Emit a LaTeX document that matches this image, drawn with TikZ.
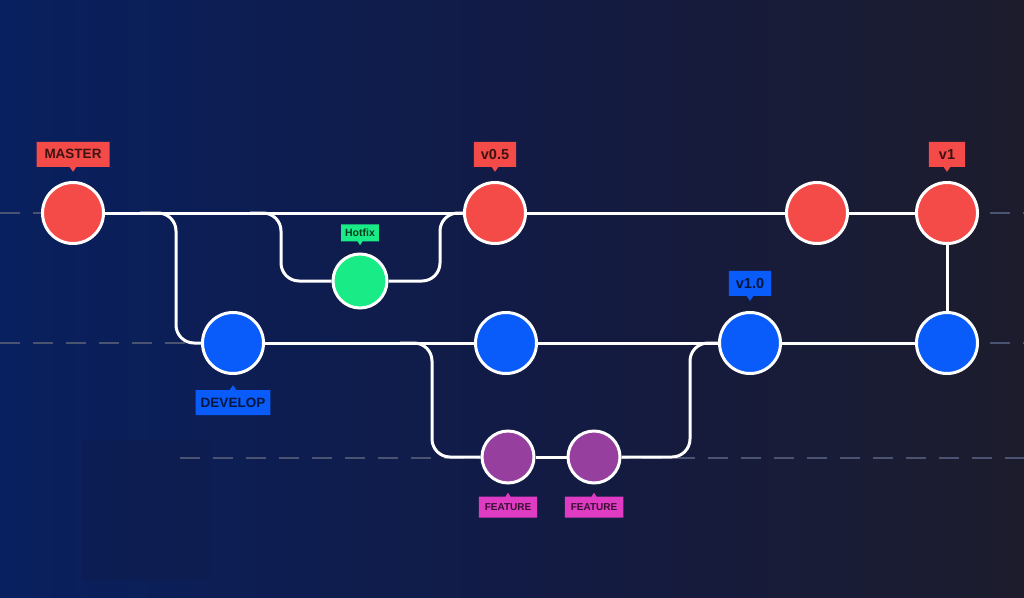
\documentclass[tikz,border=0pt]{standalone}
\usepackage{fontspec}
\setmainfont{Liberation Sans}
\usetikzlibrary{positioning, shapes.callouts}
\definecolor{bgleft}{HTML}{08205F}
\definecolor{bgmid}{HTML}{121B45}
\definecolor{bgright}{HTML}{1D1C2D}
\definecolor{redc}{HTML}{F44A48}
\definecolor{bluec}{HTML}{0A5CFA}
\definecolor{greenc}{HTML}{19EC86}
\definecolor{purplec}{HTML}{973F9F}
\definecolor{pinkc}{HTML}{E03CC3}
\definecolor{gridc}{HTML}{4A5472}

\tikzset{
  commit/.style={circle, draw=white, line width=3pt, minimum size=#1},
  commit/.default=61pt,
  branch/.style={draw=white, line width=3pt, rounded corners=18pt},
  lane/.style={gridc, line width=1.2pt, dash pattern=on 20pt off 13pt},
  tag/.style={rectangle callout, fill=#1, text=#1!25!black, inner xsep=7pt,
    minimum height=25pt, font=\bfseries\fontsize{13.5}{13.5}\selectfont,
    callout pointer width=7pt},
  tagdown/.style={tag=#1, callout relative pointer={(0pt,-5pt)}},
  tagup/.style={tag=#1, callout relative pointer={(0pt,5pt)}},
}

\begin{document}
\begin{tikzpicture}[x=1pt, y=-1pt]
  % background
  \shade[left color=bgleft, right color=bgright, middle color=bgmid] (0,0) rectangle (1024,597);
  \fill[bgmid, opacity=0.3] (82,440) rectangle (210,580);
  \useasboundingbox (0,0) rectangle (1024,597);

  % lanes
  \draw[lane] (0,213) -- (1024,213);
  \draw[lane] (0,343) -- (1024,343);
  \draw[lane] (180,458) -- (1024,458);

  % commits
  \node[commit, fill=redc] (master) at (73,213) {};
  \node[commit, fill=redc] (v05) at (495,213) {};
  \node[commit, fill=redc] (m3) at (817,213) {};
  \node[commit, fill=redc] (v1) at (947,213) {};
  \node[commit=54pt, fill=greenc] (hotfix) at (360,281) {};
  \node[commit, fill=bluec] (dev) at (233,343) {};
  \node[commit, fill=bluec] (d2) at (506,343) {};
  \node[commit, fill=bluec] (v10) at (750,343) {};
  \node[commit, fill=bluec] (d4) at (947,343) {};
  \node[commit=52pt, fill=purplec] (feat1) at (508,457) {};
  \node[commit=52pt, fill=purplec] (feat2) at (594,457) {};

  \coordinate (devfork) at (140,213);
  \coordinate (hotfork) at (250,213);
  \coordinate (featfork) at (400,343);

  % history
  \path[branch]
    (master) -- (v05)
    (v05) -- (m3)
    (m3) -- (v1)
    (v1) -- (d4)
    (dev) -- (d2)
    (d2) -- (v10)
    (v10) -- (d4)
    (feat1) -- (feat2);
  \draw[branch] (devfork) -- (176,213) -- (176,343) -- (dev);
  \draw[branch] (hotfork) -- (281,213) -- (281,281) -- (hotfix);
  \draw[branch] (hotfix) -- (440,281) -- (440,213) -- (v05);
  \draw[branch] (featfork) -- (432,343) -- (432,457) -- (feat1);
  \draw[branch] (feat2) -- (690,457) -- (690,343) -- (v10);

  % labels
  \node[tagdown=redc, inner xsep=8pt, above=14pt of master] (lmaster) {MASTER};
  \node[tagdown=redc, font=\bfseries\fontsize{14.5}{14.5}\selectfont, above=14pt of v05] (lv05) {v0.5};
  \node[tagdown=redc, font=\bfseries\fontsize{14.5}{14.5}\selectfont, inner xsep=10pt, above=14pt of v1] (lv1) {v1};
  \node[tagdown=greenc, minimum height=17pt, inner xsep=4pt,
    callout relative pointer={(0pt,-4pt)}, callout pointer width=5pt,
    font=\bfseries\fontsize{10.5}{10.5}\selectfont, above=11pt of hotfix] (lhotfix) {Hotfix};
  \node[tagdown=bluec, font=\bfseries\fontsize{14.5}{14.5}\selectfont, above=15pt of v10] (lv10) {v1.0};
  \node[tagup=bluec, inner xsep=5pt, below=15pt of dev] (ldev) {DEVELOP};
  \node[tagup=pinkc, minimum height=21pt, inner xsep=6pt,
    callout relative pointer={(0pt,4pt)}, callout pointer width=5pt,
    font=\bfseries\fontsize{10}{10}\selectfont, below=12pt of feat1] (lfeat1) {FEATURE};
  \node[tagup=pinkc, minimum height=21pt, inner xsep=6pt,
    callout relative pointer={(0pt,4pt)}, callout pointer width=5pt,
    font=\bfseries\fontsize{10}{10}\selectfont, below=12pt of feat2] (lfeat2) {FEATURE};
\end{tikzpicture}
\end{document}
